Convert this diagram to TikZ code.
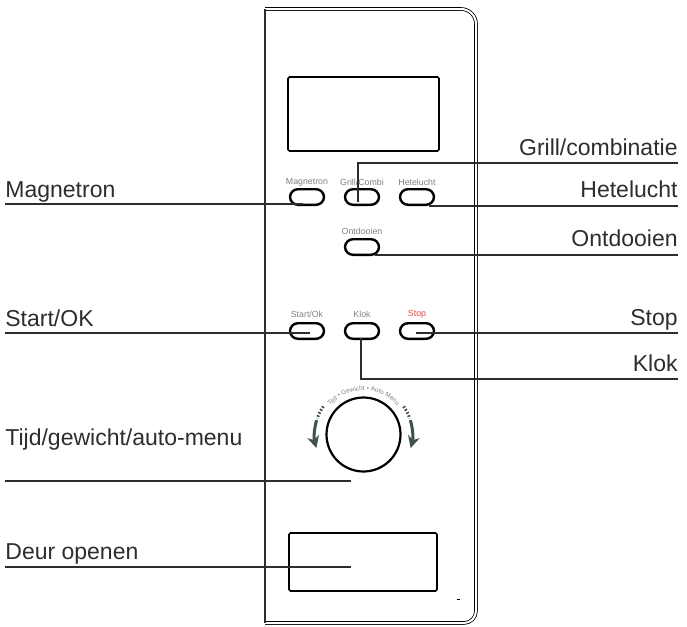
\documentclass[tikz,border=0pt]{standalone}
\usepackage{fontspec}
\setmainfont{Liberation Sans}
\usetikzlibrary{calc,arrows.meta,decorations.text}
\definecolor{knopgrijs}{RGB}{128,128,128}
\definecolor{stoprood}{RGB}{232,71,63}
\definecolor{lijngrijs}{RGB}{45,45,45}
\definecolor{pijlgroen}{RGB}{62,82,74}
\tikzset{
  knop/.style={draw, line width=1.2pt, rounded corners=4pt, minimum width=17pt, minimum height=7.8pt, inner sep=0pt},
  knoptekst/.style={font=\fontsize{4.4}{5}\selectfont, text=knopgrijs, inner sep=0pt},
  venster/.style={draw, line width=0.8pt, rounded corners=0.8pt, inner sep=0pt},
  lbl/.style={font=\fontsize{11.5}{13}\selectfont, text=lijngrijs, inner sep=0pt},
  lijn/.style={line width=0.6pt, draw=lijngrijs},
  draaipijl/.style={draw=pijlgroen, line width=1.5pt}
}

\begin{document}
\begin{tikzpicture}[x=0.5pt, y=-0.5pt]
\useasboundingbox (0,0) rectangle (687,627);
% front panel
\draw[double, double distance=1pt, line width=0.4pt] (265,9) -- (461,9) arc[start angle=90, end angle=0, radius=7.5pt] -- (476,611) arc[start angle=0, end angle=-90, radius=6pt] -- (265,623);
\draw[line width=0.9pt, lijngrijs] (265,9) -- (265,623);
\draw[line width=0.3pt] (457,599) -- (460,599);

% display and door button
\node[venster, minimum width=75.5pt, minimum height=37pt] (display) at (363.5,114) {};
\node[venster, minimum width=74pt, minimum height=29pt] (deur) at (363,562) {};

% buttons, first rows
\node[knop] (magnetron) at (307,197) {};
\node[knop] (grill) at (362,197) {};
\node[knop] (hete) at (417,197) {};
\node[knop] (ontdooien) at (362,247) {};
\node[knoptekst] (tMagnetron) at (307,182) {Magnetron};
\node[knoptekst] (tGrill) at (362,182) {Grill/Combi};
\node[knoptekst] (tHete) at (417,182) {Hetelucht};
\node[knoptekst] (tOntdooien) at (362,231) {Ontdooien};

% buttons, second row
\node[knop] (start) at (307,331) {};
\node[knop] (klok) at (362,331) {};
\node[knop] (stop) at (417,331) {};
\node[knoptekst] (tStart) at (307,314) {Start/Ok};
\node[knoptekst] (tKlok) at (362,314) {Klok};
\node[knoptekst, text=stoprood] (tStop) at (417,314) {Stop};

% dial
\node[circle, draw, line width=1.1pt, minimum size=37pt, inner sep=0pt] (dial) at (363.5,434.5) {};
\path[decorate, decoration={text along path, text align=center,
  text={|\fontsize{3.2}{4}\selectfont\color{knopgrijs}|Tijd • Gewicht • Auto Menu}}]
  ([shift={(150:22pt)}]dial.center) arc[start angle=150, end angle=30, radius=22pt];
\draw[draaipijl, dash pattern=on 0.8pt off 0.9pt] ([shift={(145:24.5pt)}]dial.center) arc[start angle=145, end angle=161, radius=24.5pt];
\draw[draaipijl, -{Stealth[length=6pt, width=6pt]}] ([shift={(163:24.5pt)}]dial.center) arc[start angle=163, end angle=196, radius=24.5pt];
\draw[draaipijl, dash pattern=on 0.8pt off 0.9pt] ([shift={(35:24.5pt)}]dial.center) arc[start angle=35, end angle=19, radius=24.5pt];
\draw[draaipijl, -{Stealth[length=6pt, width=6pt]}] ([shift={(17:24.5pt)}]dial.center) arc[start angle=17, end angle=-16, radius=24.5pt];

% labels left
\node[lbl, anchor=base west] (lMagnetron) at (5,197) {Magnetron};
\node[lbl, anchor=base west] (lStart) at (5,326) {Start/OK};
\node[lbl, anchor=base west] (lTijd) at (5,445) {Tijd/gewicht/auto-menu};
\node[lbl, anchor=base west] (lDeur) at (5,559) {Deur openen};
\coordinate (sMagnetron) at (5,204);
\coordinate (sStart) at (5,333);
\coordinate (sTijd) at (5,481);
\coordinate (sDeur) at (5,567);

% labels right
\node[lbl, anchor=base east] (lGrill) at (678,155) {Grill/combinatie};
\node[lbl, anchor=base east] (lHete) at (678,197) {Hetelucht};
\node[lbl, anchor=base east] (lOntdooien) at (678,246) {Ontdooien};
\node[lbl, anchor=base east] (lStop) at (678,325) {Stop};
\node[lbl, anchor=base east] (lKlok) at (678,371) {Klok};
\coordinate (eGrill) at (678,163);
\coordinate (eHete) at (678,206);
\coordinate (eOntdooien) at (678,255);
\coordinate (eStop) at (678,333);
\coordinate (eKlok) at (678,379);

% leader lines
\draw[lijn] (sMagnetron) -- ($(magnetron.center)+(-4,7)$);
\draw[lijn] (sStart) -- ($(start.center)+(3,2)$);
\draw[lijn] (sTijd) -- ($(dial.center)+(-12.5,46.5)$);
\draw[lijn] (sDeur) -- ($(deur.center)+(-12,5)$);
\draw[lijn] ($(grill.center)+(-4,5)$) |- (eGrill);
\draw[lijn] ($(hete.center)+(12,9)$) -- (eHete);
\draw[lijn] ($(ontdooien.center)+(13,8)$) -- (eOntdooien);
\draw[lijn] ($(stop.center)+(-1,2)$) -- (eStop);
\draw[lijn] ($(klok.center)+(-1,7)$) |- (eKlok);
\end{tikzpicture}
\end{document}
